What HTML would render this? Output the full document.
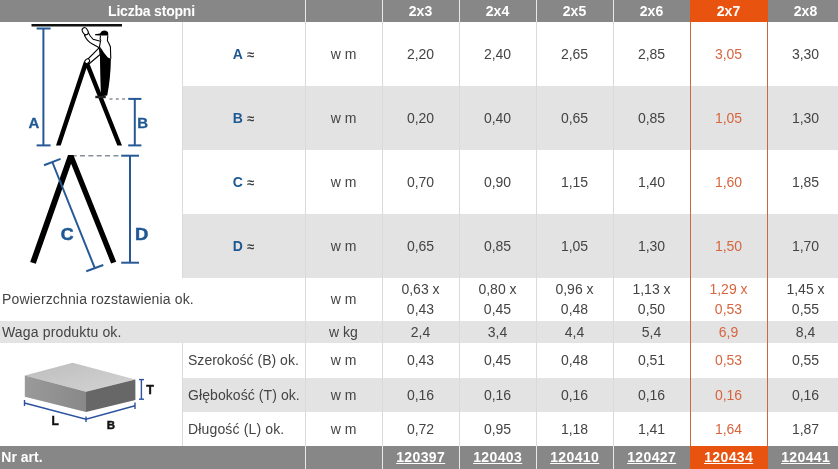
<!DOCTYPE html>
<html><head><meta charset="utf-8">
<style>
html,body{margin:0;padding:0;}
body{width:838px;height:469px;overflow:hidden;background:#fff;position:relative;will-change:transform;font-family:"Liberation Sans",sans-serif;color:#444;}
.bg{position:absolute;}
.vl{position:absolute;width:1px;}
.t{position:absolute;display:flex;align-items:center;justify-content:center;white-space:nowrap;font-size:14px;line-height:20px;}
.h{color:#fff;font-weight:bold;}
.o{color:#d6653f;}
.l{justify-content:flex-start;}
.lb{color:#1d5893;font-weight:bold;}
.ap{color:#3a3a3a;font-size:13px;font-weight:bold;margin-left:4px;position:relative;top:1px;}
.u{text-decoration:underline;letter-spacing:0.4px;text-indent:0.4px;}
</style></head><body>
<!-- backgrounds -->
<div class="bg" style="left:0;top:0;width:838px;height:22px;background:#878787"></div>
<div class="bg" style="left:690px;top:0;width:78px;height:22px;background:#e8530f"></div>
<div class="bg" style="left:182px;top:86px;width:656px;height:64px;background:#e3e3e3"></div>
<div class="bg" style="left:182px;top:214px;width:656px;height:64px;background:#e3e3e3"></div>
<div class="bg" style="left:0;top:321px;width:838px;height:22px;background:#e3e3e3"></div>
<div class="bg" style="left:182px;top:378px;width:656px;height:34px;background:#e3e3e3"></div>
<div class="bg" style="left:0;top:446px;width:838px;height:23px;background:#878787"></div>
<div class="bg" style="left:690px;top:446px;width:78px;height:23px;background:#e8530f"></div>

<!-- vertical lines body -->
<div class="vl" style="left:182px;top:22px;height:256px;background:#dadada"></div>
<div class="vl" style="left:182px;top:343px;height:103px;background:#dadada"></div>
<div class="vl" style="left:305px;top:22px;height:424px;background:#dadada"></div>
<div class="vl" style="left:382px;top:22px;height:424px;background:#dadada"></div>
<div class="vl" style="left:459px;top:22px;height:424px;background:#dadada"></div>
<div class="vl" style="left:536px;top:22px;height:424px;background:#dadada"></div>
<div class="vl" style="left:613px;top:22px;height:424px;background:#dadada"></div>
<div class="vl" style="left:690px;top:22px;height:424px;background:#c9683d"></div>
<div class="vl" style="left:767px;top:22px;height:424px;background:#c9683d"></div>
<!-- header/footer lines -->
<div class="vl" style="left:305px;top:0;height:22px;background:#e8e8e8"></div>
<div class="vl" style="left:382px;top:0;height:22px;background:#e8e8e8"></div>
<div class="vl" style="left:459px;top:0;height:22px;background:#e8e8e8"></div>
<div class="vl" style="left:536px;top:0;height:22px;background:#e8e8e8"></div>
<div class="vl" style="left:613px;top:0;height:22px;background:#e8e8e8"></div>
<div class="vl" style="left:305px;top:446px;height:23px;background:#e8e8e8"></div>
<div class="vl" style="left:382px;top:446px;height:23px;background:#e8e8e8"></div>
<div class="vl" style="left:459px;top:446px;height:23px;background:#e8e8e8"></div>
<div class="vl" style="left:536px;top:446px;height:23px;background:#e8e8e8"></div>
<div class="vl" style="left:613px;top:446px;height:23px;background:#e8e8e8"></div>

<!-- header text -->
<div class="t h" style="left:-1px;top:0;width:305px;height:22px;letter-spacing:-0.2px">Liczba stopni</div>
<div class="t h" style="left:382px;top:0;width:77px;height:22px">2x3</div>
<div class="t h" style="left:459px;top:0;width:77px;height:22px">2x4</div>
<div class="t h" style="left:536px;top:0;width:77px;height:22px">2x5</div>
<div class="t h" style="left:613px;top:0;width:77px;height:22px">2x6</div>
<div class="t h" style="left:690px;top:0;width:77px;height:22px">2x7</div>
<div class="t h" style="left:767px;top:0;width:77px;height:22px">2x8</div>

<!-- rows A-D -->
<div class="t" style="left:182px;top:22px;width:123px;height:64px"><span class="lb">A</span><span class="ap">≈</span></div>
<div class="t" style="left:182px;top:86px;width:123px;height:64px"><span class="lb">B</span><span class="ap">≈</span></div>
<div class="t" style="left:182px;top:150px;width:123px;height:64px"><span class="lb">C</span><span class="ap">≈</span></div>
<div class="t" style="left:182px;top:214px;width:123px;height:64px"><span class="lb">D</span><span class="ap">≈</span></div>

<div class="t" style="left:305px;top:22px;width:77px;height:64px">w m</div>
<div class="t" style="left:382px;top:22px;width:77px;height:64px">2,20</div>
<div class="t" style="left:459px;top:22px;width:77px;height:64px">2,40</div>
<div class="t" style="left:536px;top:22px;width:77px;height:64px">2,65</div>
<div class="t" style="left:613px;top:22px;width:77px;height:64px">2,85</div>
<div class="t o" style="left:690px;top:22px;width:77px;height:64px">3,05</div>
<div class="t" style="left:767px;top:22px;width:77px;height:64px">3,30</div>

<div class="t" style="left:305px;top:86px;width:77px;height:64px">w m</div>
<div class="t" style="left:382px;top:86px;width:77px;height:64px">0,20</div>
<div class="t" style="left:459px;top:86px;width:77px;height:64px">0,40</div>
<div class="t" style="left:536px;top:86px;width:77px;height:64px">0,65</div>
<div class="t" style="left:613px;top:86px;width:77px;height:64px">0,85</div>
<div class="t o" style="left:690px;top:86px;width:77px;height:64px">1,05</div>
<div class="t" style="left:767px;top:86px;width:77px;height:64px">1,30</div>

<div class="t" style="left:305px;top:150px;width:77px;height:64px">w m</div>
<div class="t" style="left:382px;top:150px;width:77px;height:64px">0,70</div>
<div class="t" style="left:459px;top:150px;width:77px;height:64px">0,90</div>
<div class="t" style="left:536px;top:150px;width:77px;height:64px">1,15</div>
<div class="t" style="left:613px;top:150px;width:77px;height:64px">1,40</div>
<div class="t o" style="left:690px;top:150px;width:77px;height:64px">1,60</div>
<div class="t" style="left:767px;top:150px;width:77px;height:64px">1,85</div>

<div class="t" style="left:305px;top:214px;width:77px;height:64px">w m</div>
<div class="t" style="left:382px;top:214px;width:77px;height:64px">0,65</div>
<div class="t" style="left:459px;top:214px;width:77px;height:64px">0,85</div>
<div class="t" style="left:536px;top:214px;width:77px;height:64px">1,05</div>
<div class="t" style="left:613px;top:214px;width:77px;height:64px">1,30</div>
<div class="t o" style="left:690px;top:214px;width:77px;height:64px">1,50</div>
<div class="t" style="left:767px;top:214px;width:77px;height:64px">1,70</div>

<!-- Powierzchnia -->
<div class="t l" style="left:2px;top:277px;width:300px;height:43px;letter-spacing:0.15px">Powierzchnia rozstawienia ok.</div>
<div class="t" style="left:305px;top:277px;width:77px;height:43px">w m</div>
<div class="t" style="left:382px;top:277px;width:77px;height:43px;text-align:center">0,63 x<br>0,43</div>
<div class="t" style="left:459px;top:277px;width:77px;height:43px;text-align:center">0,80 x<br>0,45</div>
<div class="t" style="left:536px;top:277px;width:77px;height:43px;text-align:center">0,96 x<br>0,48</div>
<div class="t" style="left:613px;top:277px;width:77px;height:43px;text-align:center">1,13 x<br>0,50</div>
<div class="t o" style="left:690px;top:277px;width:77px;height:43px;text-align:center">1,29 x<br>0,53</div>
<div class="t" style="left:767px;top:277px;width:77px;height:43px;text-align:center">1,45 x<br>0,55</div>

<!-- Waga -->
<div class="t l" style="left:2px;top:321px;width:300px;height:22px;letter-spacing:0.15px">Waga produktu ok.</div>
<div class="t" style="left:305px;top:321px;width:77px;height:22px">w kg</div>
<div class="t" style="left:382px;top:321px;width:77px;height:22px">2,4</div>
<div class="t" style="left:459px;top:321px;width:77px;height:22px">3,4</div>
<div class="t" style="left:536px;top:321px;width:77px;height:22px">4,4</div>
<div class="t" style="left:613px;top:321px;width:77px;height:22px">5,4</div>
<div class="t o" style="left:690px;top:321px;width:77px;height:22px">6,9</div>
<div class="t" style="left:767px;top:321px;width:77px;height:22px">8,4</div>

<!-- Szerokosc -->
<div class="t l" style="left:188px;top:342px;width:117px;height:35px;letter-spacing:0.02px">Szerokość (B) ok.</div>
<div class="t" style="left:305px;top:342px;width:77px;height:35px">w m</div>
<div class="t" style="left:382px;top:342px;width:77px;height:35px">0,43</div>
<div class="t" style="left:459px;top:342px;width:77px;height:35px">0,45</div>
<div class="t" style="left:536px;top:342px;width:77px;height:35px">0,48</div>
<div class="t" style="left:613px;top:342px;width:77px;height:35px">0,51</div>
<div class="t o" style="left:690px;top:342px;width:77px;height:35px">0,53</div>
<div class="t" style="left:767px;top:342px;width:77px;height:35px">0,55</div>

<div class="t l" style="left:188px;top:377.5px;width:117px;height:34px;letter-spacing:0.08px">Głębokość (T) ok.</div>
<div class="t" style="left:305px;top:377.5px;width:77px;height:34px">w m</div>
<div class="t" style="left:382px;top:377.5px;width:77px;height:34px">0,16</div>
<div class="t" style="left:459px;top:377.5px;width:77px;height:34px">0,16</div>
<div class="t" style="left:536px;top:377.5px;width:77px;height:34px">0,16</div>
<div class="t" style="left:613px;top:377.5px;width:77px;height:34px">0,16</div>
<div class="t o" style="left:690px;top:377.5px;width:77px;height:34px">0,16</div>
<div class="t" style="left:767px;top:377.5px;width:77px;height:34px">0,16</div>

<div class="t l" style="left:188px;top:412px;width:117px;height:34px;letter-spacing:0.15px">Długość (L) ok.</div>
<div class="t" style="left:305px;top:412px;width:77px;height:34px">w m</div>
<div class="t" style="left:382px;top:412px;width:77px;height:34px">0,72</div>
<div class="t" style="left:459px;top:412px;width:77px;height:34px">0,95</div>
<div class="t" style="left:536px;top:412px;width:77px;height:34px">1,18</div>
<div class="t" style="left:613px;top:412px;width:77px;height:34px">1,41</div>
<div class="t o" style="left:690px;top:412px;width:77px;height:34px">1,64</div>
<div class="t" style="left:767px;top:412px;width:77px;height:34px">1,87</div>

<!-- footer -->
<div class="t h l" style="left:1.3px;top:445px;width:300px;height:23px">Nr art.</div>
<div class="t h u" style="left:382px;top:445px;width:77px;height:23px">120397</div>
<div class="t h u" style="left:459px;top:445px;width:77px;height:23px">120403</div>
<div class="t h u" style="left:536px;top:445px;width:77px;height:23px">120410</div>
<div class="t h u" style="left:613px;top:445px;width:77px;height:23px">120427</div>
<div class="t h u" style="left:690px;top:445px;width:77px;height:23px">120434</div>
<div class="t h u" style="left:767px;top:445px;width:77px;height:23px">120441</div>

<!-- ladder diagram -->
<svg style="position:absolute;left:0;top:0" width="182" height="469" viewBox="0 0 182 469">
<defs>
<linearGradient id="gt" x1="0" y1="0" x2="1" y2="1"><stop offset="0" stop-color="#bdbdbd"/><stop offset="1" stop-color="#d4d4d4"/></linearGradient>
<linearGradient id="gl" x1="0" y1="0" x2="1" y2="0"><stop offset="0" stop-color="#9a9a9a"/><stop offset="1" stop-color="#888"/></linearGradient>
</defs>
<!-- diagram 1 -->
<line x1="31.5" y1="25.2" x2="122" y2="25.2" stroke="#111" stroke-width="2.4"/>
<g stroke="#275996" stroke-width="2" fill="none">
<line x1="43.4" y1="28.5" x2="43.4" y2="145.4"/>
<line x1="36.6" y1="28.5" x2="50.6" y2="28.5"/>
<line x1="36.6" y1="145.4" x2="50.6" y2="145.4"/>
<line x1="134.8" y1="98.9" x2="134.8" y2="145.4"/>
<line x1="128.2" y1="98.9" x2="141.4" y2="98.9"/>
<line x1="128.2" y1="145.4" x2="141.4" y2="145.4"/>
</g>
<line x1="109.5" y1="98.9" x2="128" y2="98.9" stroke="#8a8f96" stroke-width="1.5" stroke-dasharray="3,3.3"/>
<polygon points="56,145.4 83.9,61.5 88.6,61.5 122,145.4 117.3,145.4 86.5,68 60.7,145.4" fill="#000"/>
<!-- person -->
<path d="M100.5,35.5 L107.8,35.5 L107.4,40.8 L108.7,43 L110.4,46.8 L110.8,58.8 L107.8,57.5 L104,52.8 L100.1,46.8 L99.5,41 Z" fill="#fff"/>
<path d="M100.5,35.5 L100.1,39.1 L101,40.8 M107.8,35.5 L107.4,40.8 L108.7,43 L110.4,46.8 L110.8,58.8" fill="none" stroke="#000" stroke-width="1.1" stroke-linejoin="round"/>
<path d="M100.1,46.8 L104,52.8 L107.8,57.5 L110.9,58.8 Q110.7,78 107.2,95.5 L101,96.2 Q100.3,80 100,60 Z" fill="#000"/>
<path d="M88.1,32.1 Q90,36.5 93,39.2 L100.5,41.2 L99.3,47.7 L92,43.8 Q87.5,41.5 84.5,35.5 Z" fill="#fff" stroke="#000" stroke-width="1.1" stroke-linejoin="round"/>
<path d="M99.3,47.7 L86.5,60.5 L89.5,63.5 L100.1,54.5 Z" fill="#fff" stroke="#000" stroke-width="1.1" stroke-linejoin="round"/>
<path d="M95,34.2 L100,33.5 Q101.5,30.6 104,30.5 Q108.4,30.8 108.3,34 L108.2,35.5 L100,35.5 L95,35.3 Z" fill="#000"/>
<ellipse cx="85.2" cy="31.2" rx="2.6" ry="3.8" transform="rotate(-30 85.2 31.2)" fill="#fff" stroke="#000" stroke-width="1.1"/>
<rect x="95.3" y="95.8" width="10.5" height="2.4" fill="#222"/>
<ellipse cx="87.2" cy="61.2" rx="2.6" ry="2" transform="rotate(-40 87.2 61.2)" fill="#fff" stroke="#000" stroke-width="1"/>
<text x="28.6" y="128.2" font-family="Liberation Sans" font-weight="bold" font-size="15" fill="#1f5894" stroke="#1f5894" stroke-width="0.3">A</text>
<text x="137.3" y="128.4" font-family="Liberation Sans" font-weight="bold" font-size="15" fill="#1f5894" stroke="#1f5894" stroke-width="0.3">B</text>
<!-- diagram 2 -->
<line x1="71.65" y1="155.7" x2="121" y2="155.7" stroke="#8a8f96" stroke-width="1.5" stroke-dasharray="5,3.35"/>
<polygon points="68,155.1 73.4,155.1 116.2,261.7 111.1,263.4 71.1,163.8 35.8,263.7 30.2,262" fill="#000"/>
<g stroke="#275996" stroke-width="2" fill="none">
<line x1="130" y1="155.7" x2="130" y2="262.7"/>
<line x1="121.2" y1="155.7" x2="139" y2="155.7"/>
<line x1="121.2" y1="262.7" x2="139" y2="262.7"/>
<line x1="52.3" y1="162" x2="94.8" y2="268.1"/>
<line x1="44" y1="165.2" x2="60.6" y2="158.9"/>
<line x1="86.3" y1="271.2" x2="103.3" y2="265"/>
</g>
<text x="0" y="0" transform="translate(60.8 240) scale(1.08 1)" font-family="Liberation Sans" font-weight="bold" font-size="16.5" fill="#1f5894" stroke="#1f5894" stroke-width="0.5">C</text>
<text x="0" y="0" transform="translate(135 240) scale(1.12 1)" font-family="Liberation Sans" font-weight="bold" font-size="16.5" fill="#1f5894" stroke="#1f5894" stroke-width="0.5">D</text>
<!-- box -->
<polygon points="24.8,375.5 72.6,362.7 135.4,379.6 86,391.7" fill="url(#gt)"/>
<polygon points="24.8,375.5 86,391.7 86,412 24.8,396.8" fill="url(#gl)"/>
<polygon points="86,391.7 135.4,379.6 135.4,400.1 86,412" fill="#676767"/>
<g stroke="#2c52a0" stroke-width="1.4" fill="none">
<polyline points="24.5,403 86,419.2 135,405.8"/>
<line x1="24.5" y1="400" x2="24.5" y2="406"/>
<line x1="86" y1="416.5" x2="86" y2="422"/>
<line x1="135" y1="402.5" x2="135" y2="409"/>
<line x1="141.4" y1="379.6" x2="141.4" y2="399.2"/>
<line x1="139" y1="379.6" x2="144" y2="379.6"/>
<line x1="139" y1="399.2" x2="144" y2="399.2"/>
</g>
<g font-family="Liberation Sans" font-weight="bold" fill="#111" stroke="#111" stroke-width="0.4">
<text x="146.3" y="394.1" font-size="12.5">T</text>
<text x="51.6" y="424.7" font-size="12">L</text>
<text x="106.8" y="429" font-size="11.5">B</text>
</g>
</svg>
</body></html>
